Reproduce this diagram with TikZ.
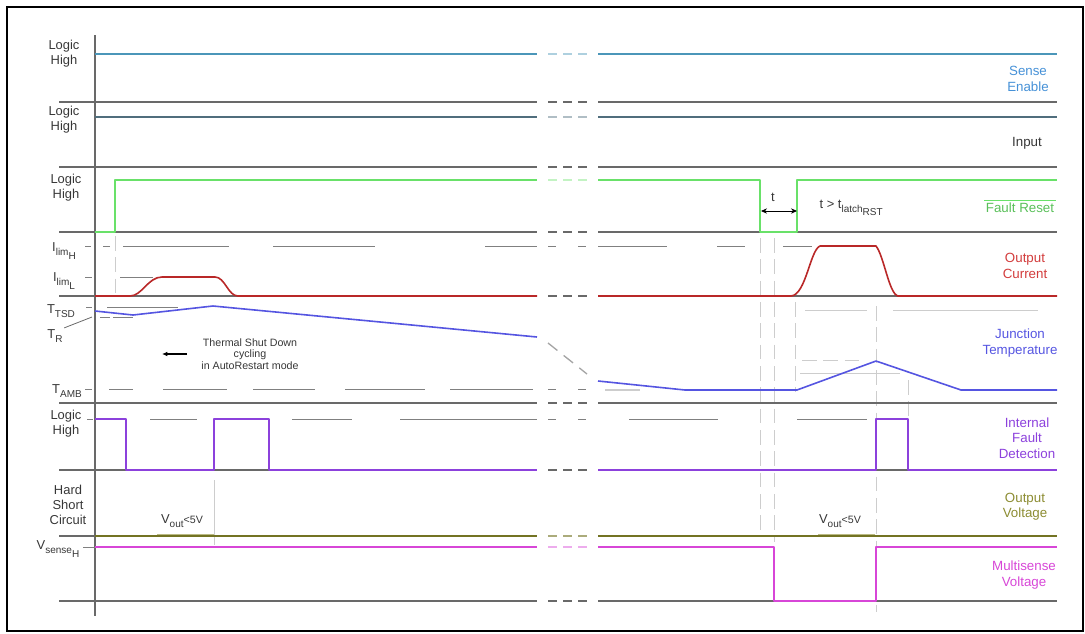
\documentclass[tikz,border=0pt]{standalone}
\usepackage{fontspec}
\setmainfont{Liberation Sans}
\usetikzlibrary{arrows.meta,positioning}
\definecolor{tdGray}{RGB}{105,105,105}
\definecolor{tdLight}{RGB}{205,205,205}
\definecolor{tdText}{RGB}{55,55,55}
\definecolor{tdTeal}{RGB}{75,150,185}
\definecolor{tdSky}{RGB}{70,145,215}
\definecolor{tdSlate}{RGB}{80,110,125}
\definecolor{tdGreen}{RGB}{105,225,105}
\definecolor{tdRed}{RGB}{185,40,40}
\definecolor{tdRose}{RGB}{210,60,60}
\definecolor{tdBlue}{RGB}{85,85,225}
\definecolor{tdViolet}{RGB}{140,65,220}
\definecolor{tdOlive}{RGB}{115,115,35}
\definecolor{tdKhaki}{RGB}{140,140,50}
\definecolor{tdMagenta}{RGB}{215,70,215}
\newcommand{\lowr}[1]{\raisebox{-0.6ex}{\fontsize{7.5}{8}\selectfont #1}}
% trace with the time break between x=537 and x=598
\newcommand{\breakline}[4]{%
  \draw[#1] (#3,#4) -- (537,#4) (598,#4) -- (1057,#4);
  \foreach \bx in {548,563,578} \draw[#1,draw=#2] (\bx,#4) -- ++(8.5,0);}
\tikzset{
  sepline/.style={draw=tdGray, line width=1.5pt},
  sig/.style={line width=1.2pt, line join=round},
  refline/.style={draw=tdGray!85, line width=0.75pt},
  faint/.style={draw=tdLight, line width=0.75pt, dash pattern=on 11pt off 5pt},
  leftlbl/.style={font=\fontsize{9.7}{11.3}\selectfont, align=center, text=tdText, inner sep=1pt},
  rightlbl/.style={font=\fontsize{10}{11.5}\selectfont, align=center, inner sep=1pt},
  note/.style={font=\fontsize{8}{8.7}\selectfont, align=center, text=tdText, inner sep=1pt}
}
\begin{document}
\begin{tikzpicture}[x=0.75pt, y=-0.75pt]
\useasboundingbox (0,0) rectangle (1085,633);
\draw[line width=1.5pt] (7,7) rectangle (1083,631);

% faint guide lines
\draw[faint] (115,236) -- (115,294);
\draw[faint] (760,238) -- (760,532);
\draw[faint] (774,238) -- (774,542);
\draw[faint] (795,302) -- (795,392);
\draw[faint] (876,306) -- (876,612);
\draw[faint] (908,380) -- (908,416);
\draw[tdLight, line width=0.75pt] (214,480) -- (214,545);
\draw[tdLight, line width=0.75pt] (805,310) -- (867,310) (893,310) -- (1038,310);
\draw[faint] (802,360) -- (860,360);
\draw[tdLight, line width=0.75pt] (800,373) -- (900,373);
\draw[tdLight, line width=1.5pt] (605,390) -- (640,390);

% time axis and row separators
\draw[line width=1pt, tdGray] (95,35) -- (95,616);
\foreach \ry in {102,167,232,296,403,470,536,601}
  {\breakline{sepline}{tdGray}{59}{\ry}}

% level references
\foreach \xa/\xb in {85/91,103/110,123/229,273/375,485/537,548/556,578/586,598/667,717/745,783/812}
  \draw[refline] (\xa,246) -- (\xb,246);
\foreach \xa/\xb in {85/92,120/153}
  \draw[refline] (\xa,277) -- (\xb,277);
\foreach \xa/\xb in {86/92,107/178}
  \draw[refline] (\xa,307) -- (\xb,307);
\foreach \xa/\xb in {100/110,113/133}
  \draw[refline] (\xa,317) -- (\xb,317);
\foreach \xa/\xb in {85/92,109/133,163/227,253/315,345/425,450/533,548/556,578/586}
  \draw[refline] (\xa,389) -- (\xb,389);
\foreach \xa/\xb in {87/93,150/197,292/352,400/537,548/556,578/586,629/718,797/867}
  \draw[refline] (\xa,419) -- (\xb,419);
\draw[refline] (83,547) -- (95,547);

% traces
\breakline{sig, tdTeal}{tdTeal!45}{95}{54}
\breakline{sig, tdSlate}{tdSlate!45}{95}{117}
\draw[sig, tdGreen] (95,232) -- (115,232) -- (115,180) -- (537,180);
\foreach \bx in {548,563,578} \draw[sig, tdGreen!40] (\bx,180) -- ++(8.5,0);
\draw[sig, tdGreen] (598,180) -- (760,180) -- (760,232) -- (797,232) -- (797,180) -- (1057,180);
\draw[sig, tdRed] (95,296) -- (130,296) .. controls (142,296) and (148,277) .. (162,277)
  -- (215,277) .. controls (225,277) and (228,296) .. (238,296) -- (537,296);
\draw[sig, tdRed] (598,296) -- (791,296) .. controls (806,295) and (810,250) .. (820,246)
  -- (876,246) .. controls (884,256) and (889,294) .. (898,296) -- (1057,296);
\draw[sig, tdBlue] (95,311) -- (133,315) -- (213,306) -- (537,337);
\draw[tdGray!60, line width=1pt, dash pattern=on 9pt off 6pt] (548,343) -- (587,374);
\draw[sig, tdBlue] (598,381) -- (685,390) -- (797,390) -- (876,361) -- (961,390) -- (1057,390);
\draw[sig, tdViolet] (95,419) -- (126,419) -- (126,470) -- (214,470) -- (214,419)
  -- (269,419) -- (269,470) -- (537,470);
\draw[sig, tdViolet] (598,470) -- (876,470) -- (876,419) -- (908,419) -- (908,470) -- (1057,470);
\breakline{sig, tdOlive}{tdOlive!60}{95}{536}
\draw[tdKhaki!60, line width=1.2pt] (157,534.5) -- (214,534.5) (818,534.5) -- (875,534.5);
\draw[sig, tdMagenta] (95,547) -- (537,547);
\foreach \bx in {548,563,578} \draw[sig, tdMagenta!45] (\bx,547) -- ++(8.5,0);
\draw[sig, tdMagenta] (598,547) -- (774,547) -- (774,601) -- (876,601) -- (876,547) -- (1057,547);

% left axis labels
\node[leftlbl] (lhSense) at (64,54) {Logic\\High};
\node[leftlbl] (lhInput) at (64,120) {Logic\\High};
\node[leftlbl] (lhReset) at (66,188) {Logic\\High};
\node[leftlbl] (limH) at (64,251) {I\lowr{lim\lowr{H}}};
\node[leftlbl] (limL) at (64,281) {I\lowr{lim\lowr{L}}};
\node[leftlbl] (tTSD) at (61,311) {T\lowr{TSD}};
\node[leftlbl] (tR) at (55,336) {T\lowr{R}};
\coordinate (tRtip) at (92,317);
\draw[tdGray, line width=0.6pt] (tR.north east) -- (tRtip);
\node[leftlbl] (tAMB) at (67,391) {T\lowr{AMB}};
\node[leftlbl] (lhFault) at (66,424) {Logic\\High};
\node[leftlbl] (hardSC) at (68,505) {Hard\\Short\\Circuit};
\node[leftlbl] (vSenseH) at (58,549) {V\lowr{sense\lowr{H}}};

% right signal names
\node[rightlbl, text=tdSky] (lblSense) at (1028,79) {Sense\\Enable};
\node[rightlbl, text=tdText] (lblInput) at (1027,143) {Input};
\node[rightlbl, text=tdGreen!85!black] (lblReset) at (1020,208) {Fault Reset};
\draw[tdGreen, line width=0.8pt] ([yshift=1pt]lblReset.north west) -- ([yshift=1pt]lblReset.north east);
\node[rightlbl, text=tdRose] (lblCurrent) at (1025,266) {Output\\Current};
\node[rightlbl, text=tdBlue] (lblJunction) at (1020,343) {Junction\\Temperature};
\node[rightlbl, text=tdViolet] (lblFault) at (1027,438) {Internal\\Fault\\Detection};
\node[rightlbl, text=tdKhaki] (lblVout) at (1025,507) {Output\\Voltage};
\node[rightlbl, text=tdMagenta] (lblSense2) at (1024,575) {Multisense\\Voltage};

% annotations
\node[note] (tsdNote) at (250,354) {Thermal Shut Down\\cycling\\in AutoRestart mode};
\coordinate (cycFrom) at (187,354);
\coordinate (cycTo) at (162,354);
\draw[-{Latex[length=4pt,width=3.5pt]}, line width=0.8pt] (cycFrom) -- (cycTo);
\node[leftlbl] (tSym) at (773,197) {t};
\coordinate (tLeft) at (761,211);
\coordinate (tRight) at (797,211);
\draw[{Stealth[length=4.5pt,width=4pt]}-{Stealth[length=4.5pt,width=4pt]}, line width=0.7pt] (tLeft) -- (tRight);
\node[leftlbl, anchor=west] (tLatch) at (818,208) {t > t\lowr{latch\lowr{RST}}};
\node[leftlbl] (voutL) at (182,521) {V\lowr{out}{\fontsize{8}{8}\selectfont<5V}};
\node[leftlbl] (voutR) at (840,521) {V\lowr{out}{\fontsize{8}{8}\selectfont<5V}};
\end{tikzpicture}
\end{document}
